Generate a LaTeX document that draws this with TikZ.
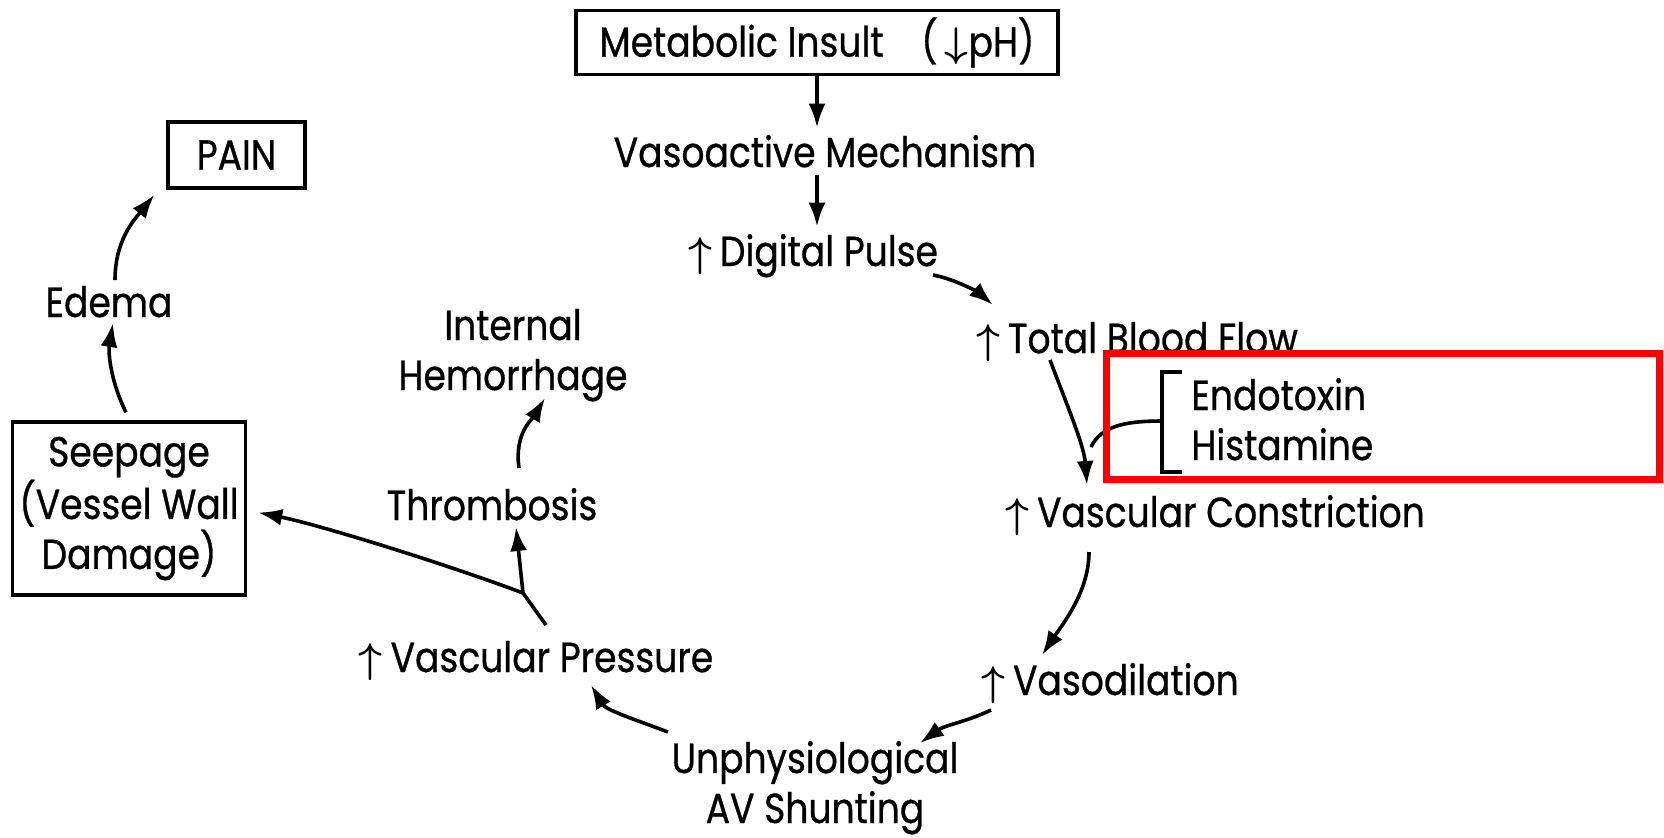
\documentclass[tikz,border=0pt]{standalone}
\usepackage{fontspec}
\setmainfont[FakeStretch=0.86,FakeBold=0.7]{Poppins}
\usetikzlibrary{arrows.meta,calc}
\definecolor{annot}{RGB}{255,0,0}
\newcommand{\upar}{{\boldmath$\uparrow$}\hspace{4pt}}
\begin{document}
\begin{tikzpicture}[x=0.5pt,y=-0.5pt,
  lbl/.style={inner sep=3.5pt, font=\fontsize{21}{25}\selectfont},
  boxed/.style={lbl, draw, line width=1.6pt},
  conn/.style={line width=1.8pt, -{Latex[length=12pt,width=8.5pt]}},
  plainline/.style={line width=1.8pt}]
\useasboundingbox (0,0) rectangle (1664,837);
\fill[white] (0,0) rectangle (1664,837);

% nodes
\node[boxed, minimum width=241pt, minimum height=30.5pt] (mi) at (817,42.5) {Metabolic Insult\hspace{0.9em}(\,{\boldmath$\downarrow$}pH)};
\node[lbl, anchor=base] (vam) at (825,167) {Vasoactive Mechanism};
\node[lbl, anchor=base] (dp) at (813,266) {\upar Digital Pulse};
\node[lbl, anchor=base] (tbf) at (1137,353) {\upar Total Blood Flow};
\node[lbl, anchor=base] (vc) at (1215,527) {\upar Vascular Constriction};
\node[lbl, anchor=base] (vd) at (1110,695) {\upar Vasodilation};
\node[lbl, align=center, anchor=base] (av) at (815,823) {Unphysiological\\AV Shunting};
\node[lbl, anchor=base] (vp) at (536,672) {\upar Vascular Pressure};
\node[lbl, anchor=base] (th) at (492,520) {Thrombosis};
\node[lbl, align=center, anchor=base] (ih) at (513,390) {Internal\\Hemorrhage};
\node[boxed, align=center, minimum width=116pt, minimum height=86.5pt] (sp) at (129,508.5) {Seepage\\(Vessel Wall\\Damage)};
\node[lbl, anchor=base] (ed) at (109,317) {Edema};
\node[boxed, minimum width=68.5pt, minimum height=33pt] (pain) at (236.5,155) {PAIN};
\node[lbl, align=left, anchor=base west] (eh) at (1184,460) {Endotoxin\\Histamine};

% bracket
\coordinate (br) at (1162,421);
\draw[plainline] (1182,372) -| (br) |- (1182,472);

% connectors
\draw[conn] (mi.south) -- (mi.south |- vam.north);
\draw[conn] (mi.south |- vam.south) -- (mi.south |- dp.north);
\draw[conn] ($(dp.base)+(120,9)$) .. controls +(22,4) and +(-14,-12) .. ($(tbf.base)+(-144,-48)$);
\draw[conn] ($(tbf.base)+(-87,7)$) .. controls +(15,40) and +(-3,-40) .. ($(vc.base)+(-128,-42)$);
\draw[plainline] (br) .. controls +(-40,0) and +(10,-20) .. ($(tbf.base)+(-46,94)$);
\draw[conn] ($(vc.base)+(-126,25)$) .. controls +(0,40) and +(20,-30) .. ($(vd.base)+(-68,-40)$);
\draw[conn] ($(vd.base)+(-119,15)$) .. controls +(-25,12) and +(25,-18) .. ($(av.base)+(105,-80)$);
\draw[conn] ($(av.base)+(-147,-91)$) .. controls +(-40,-15) and +(15,25) .. ($(vp.base)+(55,13)$);
\coordinate (jn) at (523,593);
\draw[plainline] ($(vp.base)+(10,-47)$) -- (jn);
\draw[conn] (jn) -- ($(th.base)+(24,7)$);
\draw[conn] (jn) .. controls +(-80,-30) and +(60,12) .. ($(sp.east)+(11,4)$);
\draw[conn] ($(th.base)+(27,-52)$) .. controls +(-5,-35) and +(-12,20) .. ($(th.base)+(53,-122)$);
\draw[conn] ($(sp.north)+(-3,-8)$) .. controls +(-15,-30) and +(-5,30) .. ($(ed.base)+(4,6)$);
\draw[conn] ($(ed.base)+(6,-37)$) .. controls +(0,-40) and +(-20,25) .. ($(pain.south west)+(-12,5)$);

% annotation rectangle
\draw[annot, line width=3.5pt] (1106,353) rectangle (1659,479);
\end{tikzpicture}
\end{document}
